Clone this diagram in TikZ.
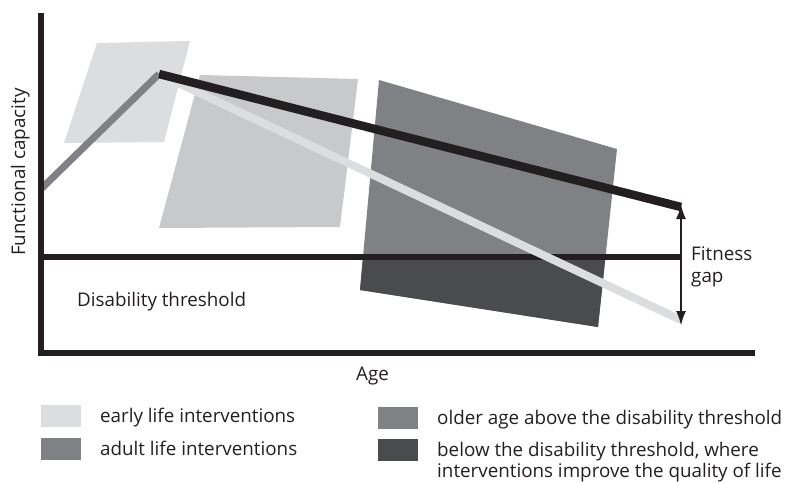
\documentclass[tikz,border=0pt]{standalone}
\usepackage{fontspec}
\setmainfont{Open Sans}
\usetikzlibrary{arrows.meta}
\definecolor{cEarly}{HTML}{DCDDDF}
\definecolor{cMid}{HTML}{C8C9CB}
\definecolor{cOld}{HTML}{808184}
\definecolor{cBelow}{HTML}{4A4B4D}
\definecolor{cBlack}{HTML}{231F20}
\tikzset{
  lbl/.style={inner sep=0pt, anchor=base west, font=\fontsize{18.8}{22}\selectfont, text=cBlack},
  swatch/.style={minimum width=40pt, minimum height=22pt, inner sep=0pt, draw=none},
  gaparrow/.style={cBlack, line width=2.5pt, {Latex[length=15pt,width=10pt]}-{Latex[length=15pt,width=10pt]}},
}
\begin{document}
\begin{tikzpicture}[x=1pt,y=-1pt]
\useasboundingbox (0,0) rectangle (787,482);
% intervention areas
\fill[cEarly] (97,43) -- (190,41) -- (164,142) -- (64,143) -- cycle;
\fill[cMid] (200,75) -- (358,79) -- (340,227) -- (159,228) -- cycle;
\fill[cOld] (379,80) -- (617,149) -- (598,327) -- (360,290) -- cycle;
\begin{scope}
\clip (0,257) rectangle (787,482);
\fill[cBelow] (379,80) -- (617,149) -- (598,327) -- (360,290) -- cycle;
\end{scope}
% coordinates
\coordinate (start) at (41,189);
\coordinate (peak) at (159,74);
\coordinate (blackend) at (681,207);
\coordinate (lightend) at (681,320);
\coordinate (thrA) at (41,257);
\coordinate (thrB) at (681,257);
\coordinate (gaptop) at (681,204);
\coordinate (gapbot) at (681,326);
\coordinate (origin) at (41,353);
\coordinate (ytop) at (41,13);
\coordinate (xend) at (755,353);
% threshold
\draw[cBlack, line width=5.3pt] (thrA) -- (thrB);
% trajectories
\draw[cOld, line width=7pt] (start) -- (peak);
\draw[cEarly, line width=8pt] (peak) -- (lightend);
\draw[cBlack, line width=8.5pt] (peak) -- (blackend);
% fitness gap
\draw[gaparrow] (gaptop) -- (gapbot);
% axes
\draw[cBlack, line width=6pt] (ytop) -- (origin) -- (xend);
% labels
\node[lbl, rotate=90] (ylab) at (25,256) {Functional capacity};
\node[lbl] (dis) at (77,306) {Disability threshold};
\node[lbl] (age) at (356,380) {Age};
\node[lbl] (fit) at (691,260) {Fitness};
\node[lbl] (gap) at (691,282) {gap};
% legend
\node[swatch, fill=cEarly] (s1) at (61,416) {};
\node[swatch, fill=cOld] (s2) at (61,449) {};
\node[swatch, fill=cOld] (s3) at (398,418) {};
\node[swatch, fill=cBelow] (s4) at (398,450) {};
\node[lbl] (t1) at (100,422) {early life interventions};
\node[lbl] (t2) at (100,455) {adult life interventions};
\node[lbl] (t3) at (437,424) {older age above the disability threshold};
\node[lbl] (t4) at (437,456) {below the disability threshold, where};
\node[lbl] (t5) at (437,477) {interventions improve the quality of life};
\end{tikzpicture}
\end{document}
